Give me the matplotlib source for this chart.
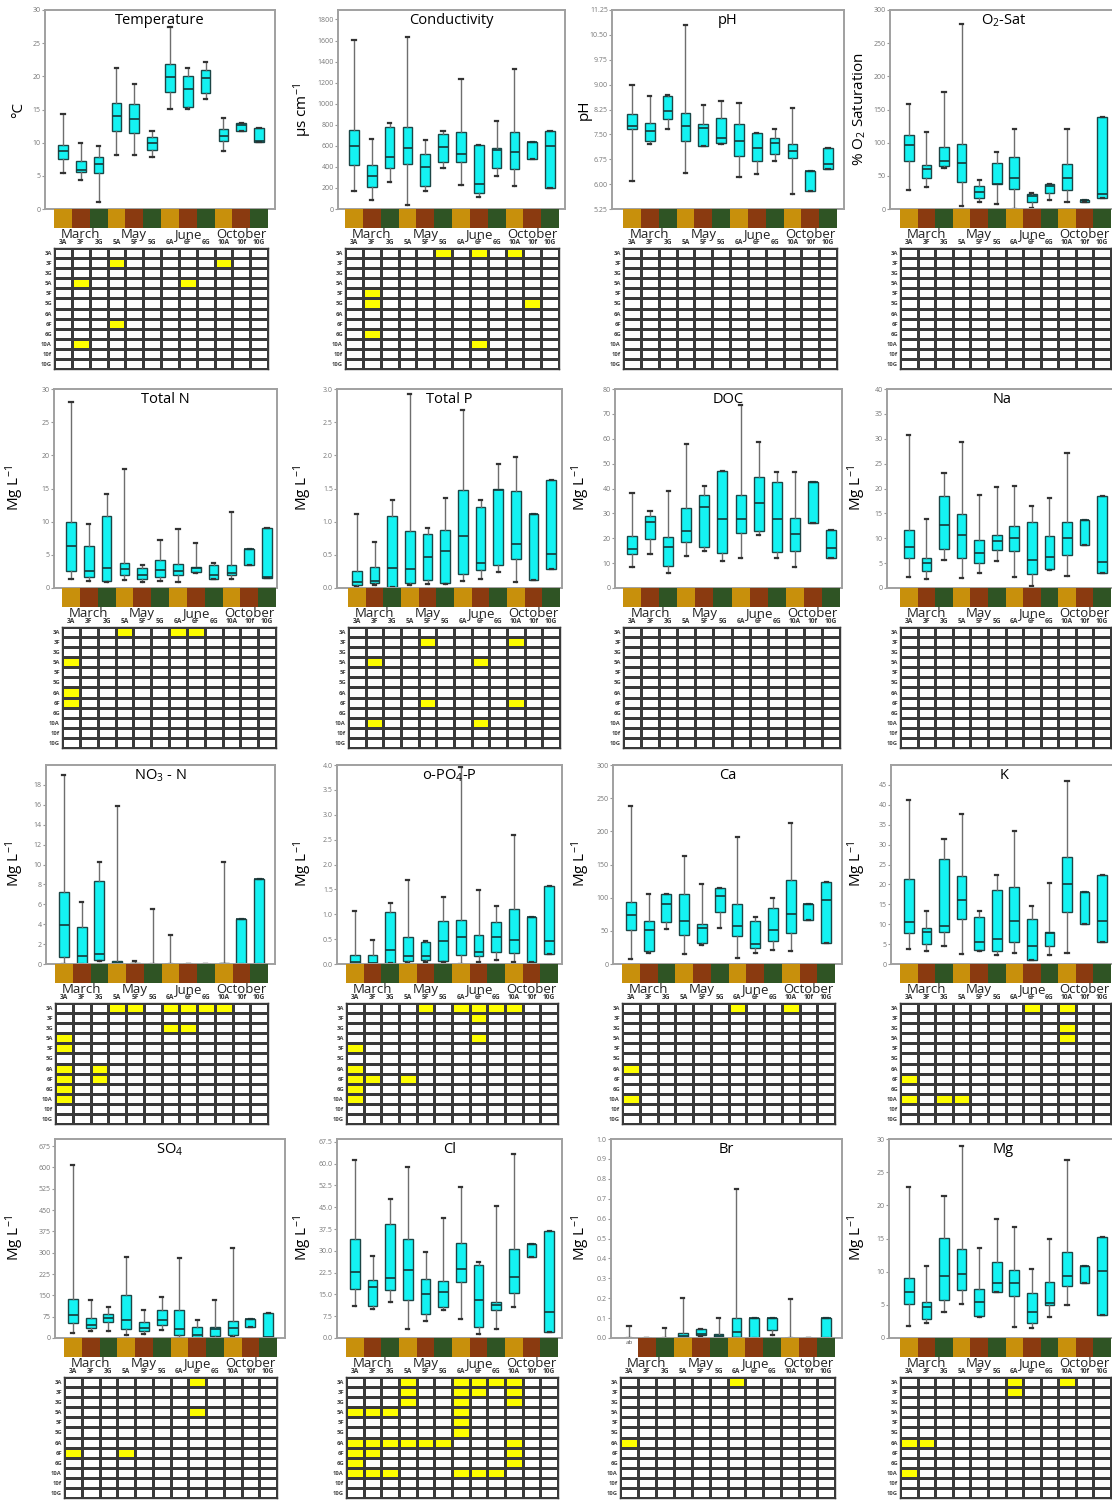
import numpy as np
import matplotlib.pyplot as plt
from matplotlib.colors import ListedColormap
from matplotlib.transforms import blended_transform_factory

plt.rcParams['font.family'] = ['Open Sans', 'DejaVu Sans']
plt.rcParams['mathtext.default'] = 'regular'

sites = ["3A", "3F", "3G", "5A", "5F", "5G", "6A", "6F", "6G", "10A", "10f", "10G"]
months = ["March", "May", "June", "October"]
strip_colors = ["#c8900c", "#8a3a10", "#2f5424"]

# (whisker low, q1, median, q3, whisker high) for each site
temperature = [(5.5, 7.5, 8.7, 9.7, 14.3), (4.4, 5.6, 5.9, 7.2, 10.0), (1.0, 5.4, 6.8, 7.8, 9.5),
               (8.1, 11.7, 14.0, 16.0, 21.2), (8.2, 11.4, 13.6, 15.8, 18.9), (7.8, 8.9, 10.0, 10.9, 11.7),
               (15.1, 17.7, 19.9, 21.9, 27.5), (15.1, 15.4, 18.1, 20.0, 21.3), (16.6, 17.5, 19.8, 21.0, 22.2),
               (8.8, 10.2, 11.0, 12.0, 13.7), (11.8, 11.8, 12.6, 12.9, 12.9), (10.1, 10.1, 10.2, 12.2, 12.2)]
conductivity = [(175, 420, 595, 755, 1605), (90, 205, 310, 415, 665), (255, 390, 495, 775, 815),
                (35, 430, 575, 780, 1635), (170, 220, 400, 520, 660), (385, 450, 590, 715, 745),
                (230, 445, 520, 735, 1235), (110, 150, 240, 605, 610), (310, 390, 565, 580, 840),
                (215, 380, 545, 735, 1325), (475, 475, 635, 635, 640), (200, 200, 595, 745, 745)]
ph = [(6.1, 7.65, 7.75, 8.1, 9.0), (7.2, 7.3, 7.6, 7.85, 8.65), (7.65, 7.95, 8.2, 8.65, 8.7),
      (6.35, 7.3, 7.75, 8.15, 10.8), (7.15, 7.15, 7.7, 7.8, 8.4), (7.2, 7.25, 7.4, 8.0, 8.5),
      (6.2, 6.85, 7.3, 7.8, 8.45), (6.3, 6.7, 7.1, 7.55, 7.55), (6.7, 6.9, 7.25, 7.4, 7.65),
      (5.7, 6.8, 7.0, 7.2, 8.3), (5.8, 5.8, 6.4, 6.4, 6.4), (6.45, 6.45, 6.6, 7.1, 7.1)]
o2_sat = [(28, 72, 97, 112, 158), (33, 47, 60, 67, 116), (62, 65, 73, 94, 176),
          (5, 41, 69, 98, 279), (11, 16, 26, 34, 43), (8, 37, 37, 70, 86),
          (0, 30, 47, 78, 120), (2, 10, 20, 23, 24), (14, 24, 35, 38, 38),
          (11, 28, 46, 68, 120), (11, 11, 13, 14, 14), (16, 16, 22, 138, 138)]
total_n = [(1.4, 2.6, 6.4, 9.9, 28.0), (1.0, 1.6, 2.6, 6.3, 9.7), (0.9, 1.0, 3.0, 10.8, 14.1),
           (1.2, 1.9, 2.8, 3.8, 18.0), (0.9, 1.3, 2.0, 3.0, 3.5), (1.0, 1.7, 2.7, 4.2, 7.2),
           (0.9, 2.0, 2.5, 3.6, 8.9), (2.2, 2.4, 3.0, 3.2, 6.8), (1.3, 1.4, 1.9, 3.4, 3.8),
           (1.4, 1.9, 2.3, 3.4, 11.5), (3.5, 3.5, 5.9, 5.9, 5.9), (1.5, 1.5, 1.6, 9.1, 9.1)]
total_p = [(0.01, 0.05, 0.09, 0.26, 1.12), (0.04, 0.07, 0.10, 0.31, 0.70), (0.01, 0.02, 0.30, 1.08, 1.32),
           (0.04, 0.08, 0.28, 0.86, 2.93), (0.06, 0.12, 0.46, 0.81, 0.90), (0.06, 0.08, 0.56, 0.88, 1.35),
           (0.11, 0.21, 0.79, 1.47, 2.68), (0.14, 0.27, 0.38, 1.22, 1.33), (0.24, 0.34, 1.48, 1.49, 1.87),
           (0.09, 0.44, 0.66, 1.46, 1.97), (0.12, 0.12, 1.12, 1.12, 1.12), (0.28, 0.28, 0.51, 1.63, 1.63)]
doc = [(8.5, 13.8, 15.8, 20.8, 38.0), (13.5, 19.8, 26.5, 29.0, 31.0), (6.0, 9.0, 16.5, 20.5, 39.0),
       (13.0, 18.5, 22.8, 32.3, 58.0), (14.8, 16.5, 32.5, 37.5, 41.0), (11.0, 14.0, 27.8, 47.0, 47.0),
       (12.0, 22.0, 27.8, 37.5, 73.5), (21.5, 23.0, 34.0, 44.5, 58.5), (12.0, 14.5, 27.8, 42.5, 46.5),
       (8.5, 15.0, 21.8, 28.3, 46.5), (26.0, 26.0, 42.5, 42.5, 42.5), (12.0, 12.0, 16.2, 23.5, 23.5)]
na = [(2.3, 6.1, 8.3, 11.6, 30.8), (1.8, 3.4, 5.0, 6.0, 13.9), (5.6, 7.8, 12.6, 18.5, 23.2),
      (2.0, 6.1, 10.7, 14.8, 29.4), (3.0, 5.0, 7.0, 9.6, 18.6), (5.4, 7.7, 9.5, 10.7, 20.3),
      (2.2, 7.5, 10.0, 12.4, 20.6), (0.5, 2.9, 5.6, 13.2, 16.4), (3.6, 3.9, 6.2, 10.4, 18.1),
      (2.4, 6.6, 10.0, 13.2, 27.1), (8.6, 8.6, 13.6, 13.6, 13.6), (3.0, 3.0, 5.3, 18.5, 18.5)]
no3_n = [(0.0, 0.7, 3.9, 7.2, 19.0), (0.0, 0.0, 0.8, 3.7, 6.2), (0.3, 0.4, 1.0, 8.3, 10.3),
         (0.0, 0.0, 0.1, 0.3, 15.9), (0.0, 0.0, 0.05, 0.1, 0.3), (0.0, 0.0, 0.0, 0.05, 5.5),
         (0.0, 0.0, 0.0, 0.02, 2.9), (0.0, 0.0, 0.0, 0.02, 0.05), (0.0, 0.0, 0.0, 0.0, 0.0),
         (0.0, 0.0, 0.05, 0.15, 10.3), (0.0, 0.0, 4.5, 4.5, 4.5), (0.0, 0.0, 8.5, 8.5, 8.5)]
po4_p = [(0.0, 0.03, 0.05, 0.18, 1.07), (0.0, 0.02, 0.03, 0.19, 0.48), (0.02, 0.02, 0.28, 1.05, 1.23),
         (0.03, 0.07, 0.16, 0.55, 1.68), (0.04, 0.08, 0.16, 0.44, 0.47), (0.05, 0.06, 0.47, 0.86, 1.35),
         (0.0, 0.18, 0.55, 0.88, 3.95), (0.05, 0.17, 0.25, 0.59, 1.48), (0.08, 0.24, 0.54, 0.84, 1.17),
         (0.05, 0.22, 0.49, 1.11, 2.60), (0.05, 0.05, 0.95, 0.95, 0.95), (0.21, 0.21, 0.47, 1.57, 1.57)]
ca = [(7, 52, 74, 93, 238), (17, 20, 52, 65, 106), (53, 64, 91, 106, 106),
      (15, 44, 65, 106, 163), (28, 32, 55, 60, 121), (55, 78, 102, 115, 115),
      (9, 42, 58, 91, 191), (17, 24, 30, 65, 71), (21, 34, 52, 85, 100),
      (19, 46, 75, 126, 213), (66, 66, 90, 90, 90), (31, 31, 97, 123, 123)]
k = [(3.7, 7.7, 10.6, 21.4, 41.1), (3.3, 5.0, 8.0, 9.0, 13.2), (4.4, 8.1, 9.6, 26.4, 31.4),
     (2.5, 11.3, 16.1, 22.2, 37.6), (3.3, 3.6, 5.6, 11.8, 13.3), (2.2, 3.2, 6.2, 18.6, 22.4),
     (2.7, 5.6, 10.7, 19.3, 33.3), (1.0, 1.0, 4.5, 11.2, 14.5), (2.2, 4.6, 7.8, 8.0, 20.3),
     (2.8, 13.0, 20.2, 27.0, 45.9), (10.0, 10.0, 18.1, 18.1, 18.1), (5.6, 5.6, 10.9, 22.4, 22.4)]
so4 = [(16, 52, 80, 137, 610), (25, 35, 45, 70, 132), (25, 55, 72, 85, 110),
       (10, 30, 65, 150, 284), (13, 25, 35, 58, 100), (28, 45, 65, 98, 145),
       (0, 10, 30, 98, 280), (0, 0, 12, 38, 65), (0, 8, 30, 38, 135),
       (3, 10, 35, 60, 315), (38, 38, 68, 68, 68), (0, 0, 5, 88, 88)]
cl = [(11.0, 17.0, 22.8, 34.2, 61.3), (10.0, 11.0, 17.5, 20.0, 28.2), (12.3, 16.5, 20.8, 39.2, 47.8),
      (3.2, 13.2, 23.5, 34.0, 58.8), (5.9, 8.2, 15.3, 20.3, 29.5), (9.5, 10.7, 15.8, 19.7, 41.3),
      (6.7, 19.3, 23.7, 32.8, 52.0), (1.3, 3.8, 13.0, 25.0, 26.0), (3.2, 9.6, 11.2, 12.4, 45.3),
      (10.8, 15.5, 21.0, 30.8, 63.3), (27.8, 27.8, 32.5, 32.5, 32.5), (2.2, 2.2, 8.8, 36.9, 36.9)]
br = [(0.0, 0.0, 0.0, 0.0, 0.06), (0.0, 0.0, 0.0, 0.0, 0.0), (0.0, 0.0, 0.0, 0.0, 0.05),
      (0.0, 0.005, 0.01, 0.025, 0.2), (0.01, 0.015, 0.02, 0.045, 0.045), (0.0, 0.005, 0.01, 0.02, 0.1),
      (0.0, 0.005, 0.03, 0.1, 0.75), (0.0, 0.0, 0.1, 0.1, 0.1), (0.015, 0.04, 0.1, 0.1, 0.1),
      (0.0, 0.0, 0.0, 0.0, 0.195), (0.0, 0.0, 0.0, 0.0, 0.0), (0.0, 0.0, 0.1, 0.1, 0.1)]
mg = [(1.8, 5.2, 6.9, 9.0, 22.7), (2.3, 2.8, 4.6, 5.4, 10.8), (3.9, 5.8, 9.3, 15.1, 21.4),
      (5.1, 7.3, 9.6, 13.4, 28.9), (3.2, 3.3, 5.4, 7.4, 13.5), (6.9, 7.0, 8.3, 11.5, 17.9),
      (1.6, 6.3, 8.3, 10.2, 16.7), (1.5, 2.2, 3.9, 6.8, 10.4), (3.1, 4.9, 5.3, 8.4, 14.9),
      (5.0, 7.8, 9.4, 12.9, 26.9), (8.3, 8.3, 10.9, 10.9, 10.9), (3.5, 3.5, 10.1, 15.3, 15.3)]

# significant pairs (row site, column site) shown in yellow
temperature_sig = [("3F", "5A"), ("3F", "10A"), ("5A", "3F"), ("5A", "6F"), ("6F", "5A"), ("10A", "3F")]
conductivity_sig = [("3A", "5G"), ("3A", "6F"), ("3A", "10A"), ("5F", "3F"), ("5G", "3F"),
                    ("5G", "10f"), ("6G", "3F"), ("10A", "6F")]
ph_sig = []
o2_sig = []
total_n_sig = [("3A", "5A"), ("3A", "6A"), ("3A", "6F"), ("5A", "3A"), ("6A", "3A"), ("6F", "3A")]
total_p_sig = [("3F", "5F"), ("3F", "10A"), ("5A", "3F"), ("5A", "6F"), ("6F", "5F"), ("6F", "10A"),
               ("10A", "3F"), ("10A", "6F")]
doc_sig = []
na_sig = []
no3_sig = [("3A", "5A"), ("3A", "5F"), ("3A", "6A"), ("3A", "6F"), ("3A", "6G"), ("3A", "10A"),
           ("3G", "6A"), ("3G", "6F"), ("5A", "3A"), ("5F", "3A"), ("6A", "3A"), ("6A", "3G"),
           ("6F", "3A"), ("6F", "3G"), ("6G", "3A"), ("10A", "3A")]
po4_sig = [("3A", "5F"), ("3A", "6A"), ("3A", "6F"), ("3A", "6G"), ("3A", "10A"), ("3F", "6F"),
           ("5A", "6F"), ("5F", "3A"), ("6A", "3A"), ("6F", "3A"), ("6F", "3F"), ("6F", "5A"),
           ("6G", "3A"), ("10A", "3A")]
ca_sig = [("3A", "6A"), ("3A", "10A"), ("6A", "3A"), ("10A", "3A")]
k_sig = [("3A", "6F"), ("3A", "10A"), ("3G", "10A"), ("5A", "10A"), ("6F", "3A"), ("10A", "3A"),
         ("10A", "3G"), ("10A", "5A")]
so4_sig = [("3A", "6F"), ("5A", "6F"), ("6F", "3A"), ("6F", "5A")]
cl_sig = [("3A", "5A"), ("3A", "6A"), ("3A", "6F"), ("3A", "6G"), ("3A", "10A"),
          ("3F", "5A"), ("3F", "6A"), ("3F", "6F"), ("3F", "10A"),
          ("3G", "5A"), ("3G", "6A"), ("3G", "10A"),
          ("5A", "3A"), ("5A", "3F"), ("5A", "3G"), ("5A", "6A"), ("5F", "6A"), ("5G", "6A"),
          ("6A", "3A"), ("6A", "3F"), ("6A", "3G"), ("6A", "5A"), ("6A", "5F"), ("6A", "5G"), ("6A", "10A"),
          ("6F", "3A"), ("6F", "3F"), ("6F", "10A"), ("6G", "3A"), ("6G", "10A"),
          ("10A", "3A"), ("10A", "3F"), ("10A", "3G"), ("10A", "6A"), ("10A", "6F"), ("10A", "6G")]
br_sig = [("3A", "6A"), ("6A", "3A")]
mg_sig = [("3A", "6A"), ("3A", "10A"), ("3F", "6A"), ("6A", "3A"), ("6A", "3F"), ("10A", "3A")]

mgl = "Mg L$^{-1}$"
panels = [
    ("Temperature", "°C", temperature, temperature_sig, 30, np.arange(0, 31, 5), "{:.0f}"),
    ("Conductivity", "µs cm$^{-1}$", conductivity, conductivity_sig, 1890, np.arange(0, 1801, 200), "{:.0f}"),
    ("pH", "pH", ph, ph_sig, 11.25, np.arange(5.25, 11.26, 0.75), "{:.2f}"),
    ("O$_2$-Sat", "% O$_2$ Saturation", o2_sat, o2_sig, 300, np.arange(0, 301, 50), "{:.0f}"),
    ("Total N", mgl, total_n, total_n_sig, 30, np.arange(0, 31, 5), "{:.0f}"),
    ("Total P", mgl, total_p, total_p_sig, 3.0, np.arange(0, 3.01, 0.5), "{:.1f}"),
    ("DOC", mgl, doc, doc_sig, 80, np.arange(0, 81, 10), "{:.0f}"),
    ("Na", mgl, na, na_sig, 40, np.arange(0, 41, 5), "{:.0f}"),
    ("NO$_3$ - N", mgl, no3_n, no3_sig, 20, np.arange(0, 19, 2), "{:.0f}"),
    ("o-PO$_4$-P", mgl, po4_p, po4_sig, 4.0, np.arange(0, 4.01, 0.5), "{:.1f}"),
    ("Ca", mgl, ca, ca_sig, 300, np.arange(0, 301, 50), "{:.0f}"),
    ("K", mgl, k, k_sig, 50, np.arange(0, 46, 5), "{:.0f}"),
    ("SO$_4$", mgl, so4, so4_sig, 700, np.arange(0, 676, 75), "{:.0f}"),
    ("Cl", mgl, cl, cl_sig, 68.5, np.arange(0, 67.6, 7.5), "{:.1f}"),
    ("Br", mgl, br, br_sig, 1.0, np.arange(0, 1.01, 0.1), "{:.1f}"),
    ("Mg", mgl, mg, mg_sig, 30, np.arange(0, 31, 5), "{:.0f}"),
]

# layout in pixels
W, H = 1112, 1500
row_top = [10, 389, 765, 1139]
# (axes left, axes right, strip left, strip right) per row and column
xpos = [
    [(45, 275, 54, 268), (338, 565, 345, 559), (612, 844, 623, 837), (890, 1118, 900, 1111)],
    [(54, 277, 62, 276), (337, 562, 348, 560), (615, 842, 623, 840), (887, 1118, 900, 1111)],
    [(46, 275, 55, 268), (337, 562, 346, 558), (613, 842, 622, 835), (891, 1118, 900, 1111)],
    [(55, 285, 64, 277), (337, 562, 346, 558), (611, 842, 620, 835), (889, 1118, 900, 1111)],
]
ylab_x = [26, 314, 592, 868]


def rect(l, t, r, b):
    return [l / W, 1 - b / H, (r - l) / W, (b - t) / H]


fig = plt.figure(figsize=(W / 100, H / 100), dpi=100)
cmap = ListedColormap(["white", "#ffff00"])

for idx, (title, ylabel, stats, sig, ymax, yticks, fmt) in enumerate(panels):
    r, c = divmod(idx, 4)
    axl, axr, stl, str_ = xpos[r][c]
    top = row_top[r]
    cw = (str_ - stl) / 12
    xlim = (-0.5 - (stl - axl) / cw, 11.5 + (axr - str_) / cw)

    ax = fig.add_axes(rect(axl, top, axr, top + 199))
    bx = [dict(whislo=s[0], q1=s[1], med=s[2], q3=s[3], whishi=s[4], fliers=[]) for s in stats]
    ax.bxp(bx, positions=np.arange(12), widths=0.55, patch_artist=True, capwidths=0.18,
           boxprops=dict(facecolor="#14f2f2", edgecolor="#1c4646", linewidth=1.0),
           medianprops=dict(color="#173838", linewidth=1.2),
           whiskerprops=dict(color="#6e6e6e", linewidth=1.0),
           capprops=dict(color="#333333", linewidth=1.6))
    ax.set_xlim(*xlim)
    ax.set_ylim(yticks[0] if title == "pH" else 0, ymax)
    ax.set_yticks(yticks)
    ax.set_yticklabels([fmt.format(v) for v in yticks])
    ax.set_xticks([])
    ax.tick_params(axis="y", labelsize=5, labelcolor="#777777", color="#999999", length=2, width=0.8, pad=1)
    for sp in ax.spines.values():
        sp.set_color("#a0a0a0")
        sp.set_linewidth(1.4)
    ax.text(0.5, 0.985, title, transform=ax.transAxes, ha="center", va="top", fontsize=10.5)
    ax.set_ylabel(ylabel, fontsize=11)
    ax.yaxis.set_label_coords((ylab_x[c] - axl) / (axr - axl), 0.5)

    # colour strip below the box plot
    sx = fig.add_axes(rect(axl, top + 199, axr, top + 218))
    sx.set_xlim(*xlim)
    sx.set_ylim(0, 1)
    sx.axis("off")
    first = 1 if title == "Br" else 0
    sx.bar(np.arange(first, 12), 1, width=1.0, bottom=0,
           color=[strip_colors[i % 3] for i in range(first, 12)], linewidth=0)
    if title == "Br":
        sx.text(0, 0.75, "ab", ha="center", va="center", fontsize=4.5, color="#555555")
    tr = blended_transform_factory(sx.transData, sx.transAxes)
    for m, month in enumerate(months):
        sx.text(3 * m + 1, -0.02, month, transform=tr, ha="center", va="top", fontsize=9.5, color="#222222")

    # pairwise comparison grid
    gx = fig.add_axes(rect(stl, top + 238, str_, top + 359))
    mask = np.zeros((12, 12))
    for a, b in sig:
        mask[sites.index(a), sites.index(b)] = 1
    gx.pcolormesh(np.arange(13), np.arange(13), mask, cmap=cmap, vmin=0, vmax=1,
                  edgecolors="#3a3a3a", linewidth=0.8)
    gx.set_xlim(0, 12)
    gx.set_ylim(12, 0)
    gx.set_xticks(np.arange(12) + 0.5)
    gx.set_xticklabels(sites, fontsize=4.8, fontweight="bold", color="#333333")
    gx.set_yticks(np.arange(12) + 0.5)
    gx.set_yticklabels(sites, fontsize=4.2, fontweight="bold", color="#444444")
    gx.xaxis.tick_top()
    gx.tick_params(length=0, pad=1.5)
    for sp in gx.spines.values():
        sp.set_color("#3a3a3a")
        sp.set_linewidth(1.0)

fig.savefig("out.png", dpi=100)
